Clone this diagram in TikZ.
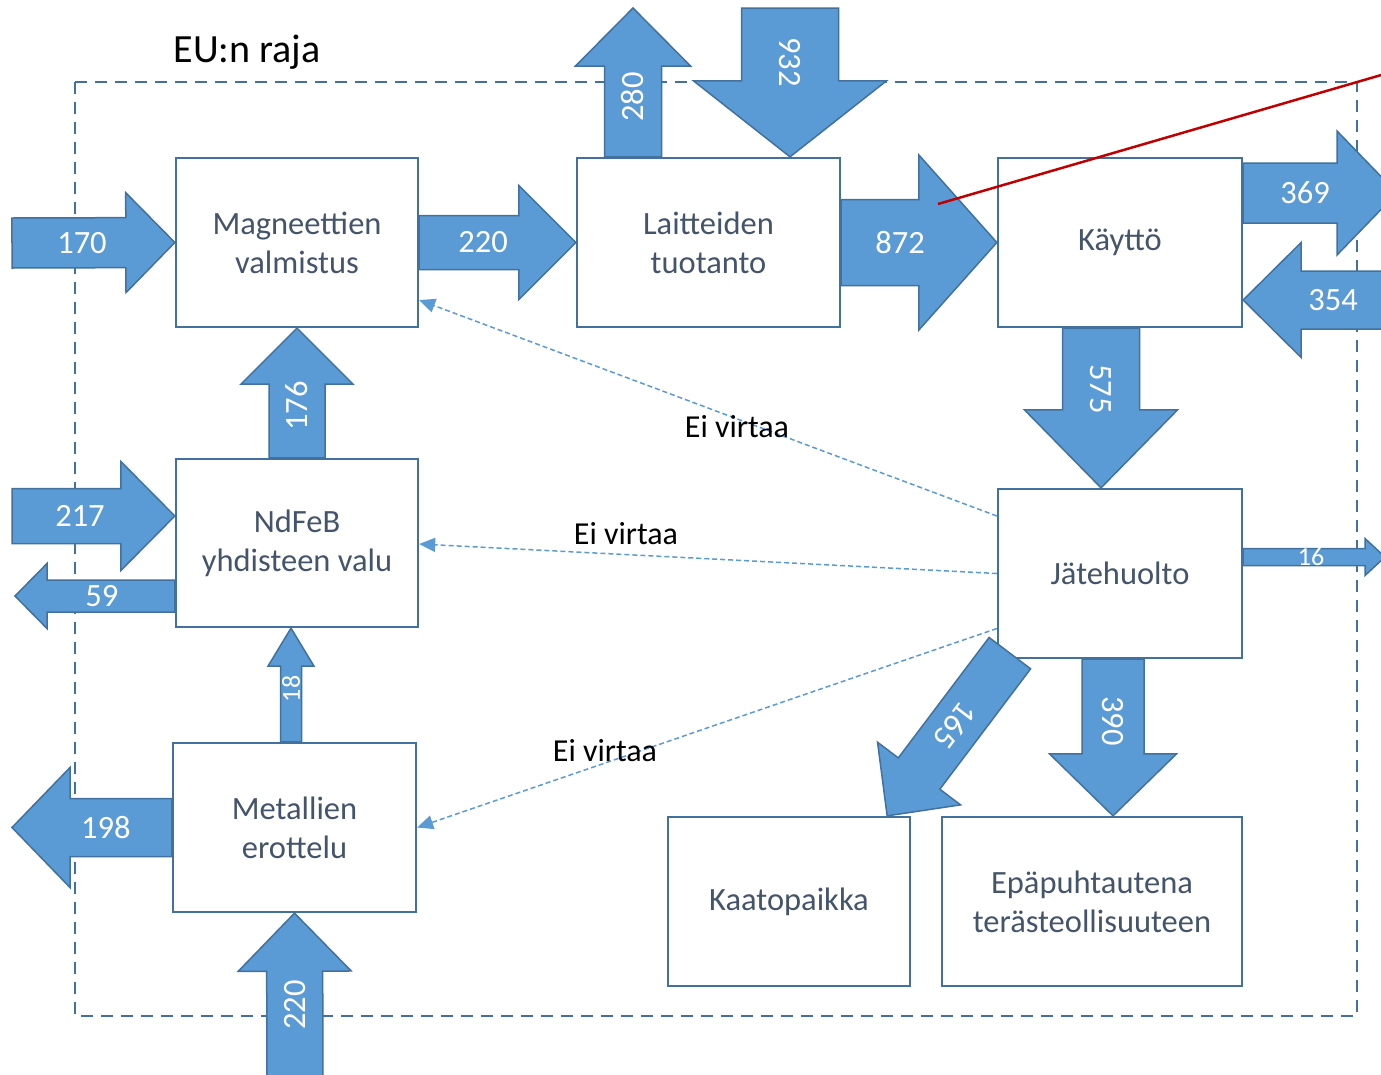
\documentclass[tikz,border=0pt]{standalone}
\usepackage{fontspec}
\setmainfont{Carlito}
\usetikzlibrary{calc,arrows.meta}
\definecolor{flowfill}{HTML}{5B9BD5}
\definecolor{flowline}{HTML}{41719C}
\definecolor{boxtext}{HTML}{44546A}
\definecolor{redline}{HTML}{C00000}
% #1 label name, #2 tail, #3 tip, #4 shaft half width, #5 head half width,
% #6 head length, #7 label distance from tail, #8 label text, #9 label rotation
\newcommand\flowarrow[9]{%
  \path let \p1=(#2), \p2=(#3), \n1={atan2(\y2-\y1,\x2-\x1)}, \n2={veclen(\x2-\x1,\y2-\y1)} in \pgfextra{\xdef\flang{\n1}\xdef\fllen{\n2}};
  \begin{scope}[shift={(#2)}, rotate=\flang]
    \draw[flow] (0,#4) -- ({\fllen-#6},#4) -- ({\fllen-#6},#5) -- (\fllen,0) -- ({\fllen-#6},-#5) -- ({\fllen-#6},-#4) -- (0,-#4) -- cycle;
    \node[flowlbl, rotate=#9] (#1) at (#7,0) {#8};
  \end{scope}}
\begin{document}
\begin{tikzpicture}[x=1pt,y=-1pt,
  box/.style={draw=flowline, line width=2.3pt, fill=white, align=center, text=boxtext, font=\fontsize{32.5}{39}\selectfont, inner sep=0pt},
  flow/.style={fill=flowfill, draw=flowline, line width=1.5pt, line join=miter},
  flowlbl/.style={text=white, font=\fontsize{32.5}{38}\selectfont, inner sep=0pt},
  noflow/.style={draw=flowfill, line width=1.5pt, dash pattern=on 5pt off 3pt, -{Triangle[length=16pt,width=14pt]}},
  note/.style={text=black, font=\fontsize{32}{38}\selectfont, inner sep=0pt},
  border/.style={draw=flowline, line width=2.5pt, dash pattern=on 12pt off 8pt}]
\useasboundingbox (0,0) rectangle (1381,1074);
\clip (0,0) rectangle (1381,1074);
\fill[white] (0,0) rectangle (1381,1074);

% EU border
\draw[border] (75,82) rectangle (1357,1016);
\node[note, font=\fontsize{40}{46}\selectfont] (eu) at (247,52) {EU:n raja};

% boxes
\node[box, minimum width=242pt, minimum height=169pt] (mag) at (297,242.5) {Magneettien\\valmistus};
\node[box, minimum width=263pt, minimum height=169pt] (lai) at (708.5,242.5) {Laitteiden\\tuotanto};
\node[box, minimum width=244pt, minimum height=169pt] (kay) at (1120,242.5) {Käyttö};
\node[box, minimum width=242pt, minimum height=168pt] (nd) at (297,543) {NdFeB\\yhdisteen valu};
\node[box, minimum width=244pt, minimum height=169pt] (jat) at (1120,573.5) {Jätehuolto};
\node[box, minimum width=243pt, minimum height=169pt] (met) at (294.5,827.5) {Metallien\\erottelu};
\node[box, minimum width=242pt, minimum height=169pt] (kaa) at (789,901.5) {Kaatopaikka};
\node[box, minimum width=300pt, minimum height=169pt] (epa) at (1092,901.5) {Epäpuhtautena\\terästeollisuuteen};

% free ends
\coordinate (t170) at (12,243);
\coordinate (h280) at (633,8);
\coordinate (t932) at (790,8);
\coordinate (h369) at (1397,193);
\coordinate (t354) at (1400,300);
\coordinate (h16) at (1385,557);
\coordinate (t217) at (12,516);
\coordinate (h59) at (15,596);
\coordinate (h198) at (12,827.5);
\coordinate (t220b) at (295,1076);

% flows
\flowarrow{l170}{t170}{mag.west}{25}{50}{49}{70}{170}{0}
\flowarrow{l220}{mag.east}{lai.west}{27}{57}{57}{64}{220}{0}
\flowarrow{l280}{[xshift=-75.5pt]lai.north}{h280}{28.5}{57.5}{58}{60}{280}{90}
\flowarrow{l932}{t932}{[xshift=81.5pt]lai.north}{48.5}{96.5}{76}{54}{932}{-90}
\flowarrow{l872}{lai.east}{kay.west}{43}{87.5}{78}{59}{872}{0}
\flowarrow{l369}{[yshift=49.5pt]kay.east}{h369}{30}{62}{60}{62}{369}{0}
\flowarrow{l354}{t354}{[yshift=-57.5pt]kay.east}{29}{57.5}{58}{67}{354}{0}
\flowarrow{l575}{[xshift=-19pt]kay.south}{[xshift=-19pt]jat.north}{38.5}{76.5}{78}{61}{575}{-90}
\flowarrow{l176}{nd.north}{mag.south}{28}{56}{56}{52}{176}{90}
\flowarrow{l217}{t217}{[yshift=27pt]nd.west}{27.5}{54.5}{54}{68}{217}{0}
\flowarrow{l59}{[yshift=-53pt]nd.west}{h59}{16}{32.5}{32}{73}{59}{0}
\flowarrow{l198}{met.west}{h198}{29}{60}{58}{66}{198}{0}
\flowarrow{l220b}{t220b}{met.south}{28}{56.5}{58}{71}{220}{90}
\flowarrow{l390}{[xshift=-7pt]jat.south}{[xshift=21pt]epa.north}{31}{63.5}{62}{62}{390}{-90}
\flowarrow{l165}{[shift={(13pt,6pt)}]jat.south west}{[xshift=-24pt]kaa.north east}{26}{52}{53}{91}{165}{232.8}
\begin{scope}
\tikzset{flowlbl/.style={text=white, font=\fontsize{26}{30}\selectfont, inner sep=0pt}}
\flowarrow{l16}{[yshift=16.5pt]jat.east}{h16}{8.5}{18.5}{20}{68}{16}{0}
\flowarrow{l18}{[xshift=-3.5pt]met.north}{[xshift=-6pt]nd.south}{10.5}{23}{38}{53}{18}{90}
\end{scope}

% no-flow connectors
\draw[noflow] ([yshift=57.5pt]jat.west) -- ([yshift=-57.5pt]mag.east);
\draw[noflow] (jat.west) -- ([yshift=-1pt]nd.east);
\draw[noflow] ([yshift=-55pt]jat.west) -- (met.east);
\node[note] (n1) at (737,427) {Ei virtaa};
\node[note] (n2) at (626,534) {Ei virtaa};
\node[note] (n3) at (605,751) {Ei virtaa};

% red line
\coordinate (r1) at (938,204);
\coordinate (r2) at (1395,71);
\draw[redline, line width=2.5pt] (r1) -- (r2);
\end{tikzpicture}
\end{document}
